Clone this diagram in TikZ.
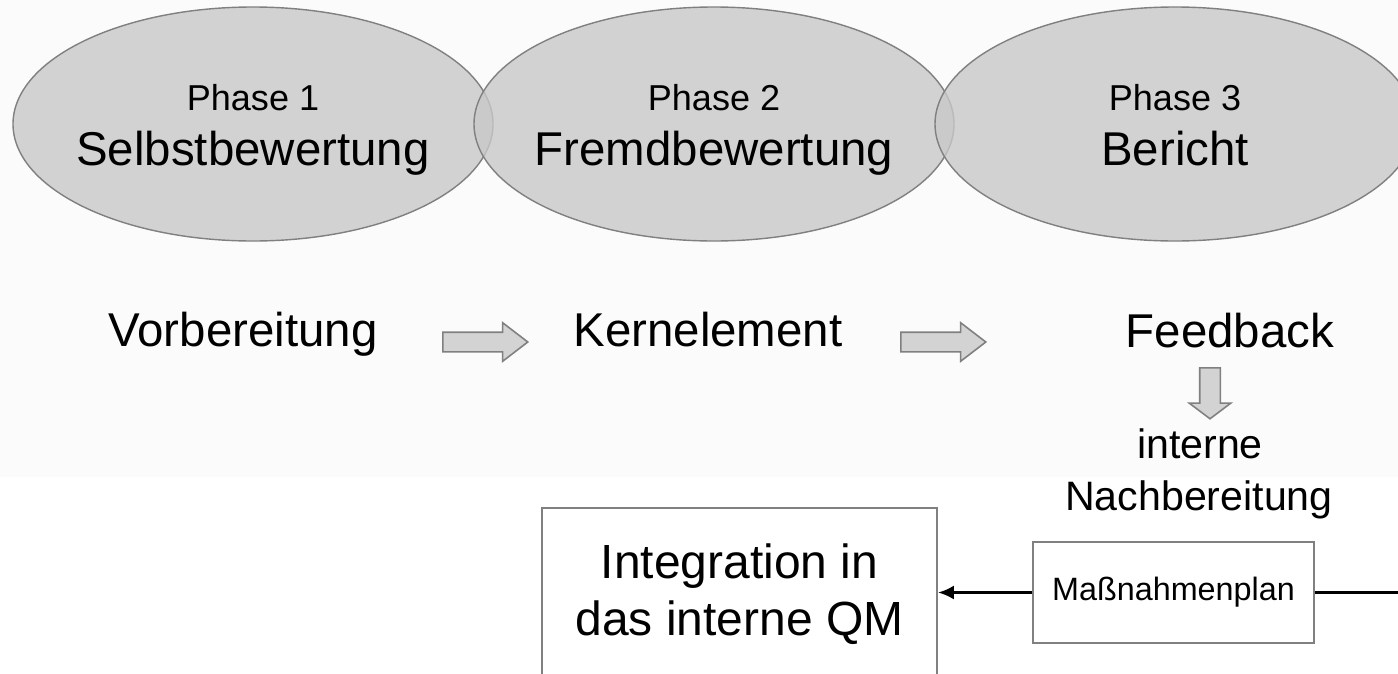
\documentclass[tikz,border=0pt]{standalone}
\usepackage{fontspec}
\setmainfont{Liberation Sans}
\usetikzlibrary{shapes.arrows,arrows.meta}

\definecolor{bgtop}{HTML}{FBFBFB}
\definecolor{ellfill}{HTML}{C8C8C8}
\definecolor{arrfill}{HTML}{D3D3D3}
\definecolor{rim}{HTML}{808080}

\newcommand\phasesize{\fontsize{20.5pt}{24pt}\selectfont}
\newcommand\bigsize{\fontsize{27pt}{32pt}\selectfont}
\newcommand\nachsize{\fontsize{23.4pt}{29.6pt}\selectfont}
\newcommand\masssize{\fontsize{18.4pt}{22pt}\selectfont}
\newcommand\integsize{\fontsize{27.3pt}{32.4pt}\selectfont}

\tikzset{
  phase/.style={draw=rim,line width=.8pt,fill=ellfill,fill opacity=.8},
  txt/.style={inner sep=0pt,anchor=base},
  flow/.style={single arrow,draw=rim,line width=.9pt,fill=arrfill,anchor=tail,
    inner xsep=0pt,inner ysep=.18cm,minimum height=1.7cm,
    single arrow head extend=.19cm,single arrow tip angle=75},
  flowdown/.style={flow,rotate=-90,minimum height=1.02cm,inner ysep=.19cm,
    single arrow head extend=.21cm,single arrow tip angle=106},
  box/.style={draw=rim,line width=1.3pt,fill=white,inner sep=0pt,align=center},
  conn/.style={line width=1.4pt}
}

\begin{document}
\begin{tikzpicture}[x=0.02cm,y=-0.02cm]
\useasboundingbox (0,0) rectangle (1398,673);
\clip (0,0) rectangle (1398,673);
\fill[white] (0,0) rectangle (1398,673);
\fill[bgtop] (0,0) rectangle (1398,477);

% phases
\draw[phase] (253,124) ellipse (240 and 117);
\draw[phase] (714,124) ellipse (240 and 117);
\draw[phase] (1175,124) ellipse (240 and 117);
\node[txt,font=\phasesize] (ph1) at (253,110) {Phase 1};
\node[txt,font=\bigsize] (sb) at (253,165) {Selbstbewertung};
\node[txt,font=\phasesize] (ph2) at (714,110) {Phase 2};
\node[txt,font=\bigsize] (fb) at (714,165) {Fremdbewertung};
\node[txt,font=\phasesize] (ph3) at (1175,110) {Phase 3};
\node[txt,font=\bigsize] (ber) at (1175,165) {Bericht};

% steps
\node[txt,font=\bigsize] (prep) at (243,346) {Vorbereitung};
\node[txt,font=\bigsize] (core) at (708,346) {Kernelement};
\node[txt,font=\bigsize] (feed) at (1230,347) {Feedback};
\node[flow] (a1) at (442,342) {};
\node[flow] (a2) at (900,342) {};
\node[flowdown] (a3) at (1210,367) {};
\node[txt,font=\nachsize] (int) at (1200,458) {interne};
\node[txt,font=\nachsize] (nach) at (1199,510) {Nachbereitung};

% boxes
\node[box,font=\integsize,minimum width=7.9cm,minimum height=3.44cm] (integ) at (739.5,594)
  {Integration in\\das interne QM};
\node[box,font=\masssize,minimum width=5.62cm,minimum height=2.02cm] (mass) at (1173.5,592.5)
  {Maßnahmenplan};
\coordinate (edge) at (1398,592.5);
\draw[conn,-{Latex[length=9pt,width=8pt]}] (mass.west) -- (mass.west -| integ.east);
\draw[conn] (mass.east) -- (edge);
\end{tikzpicture}
\end{document}
